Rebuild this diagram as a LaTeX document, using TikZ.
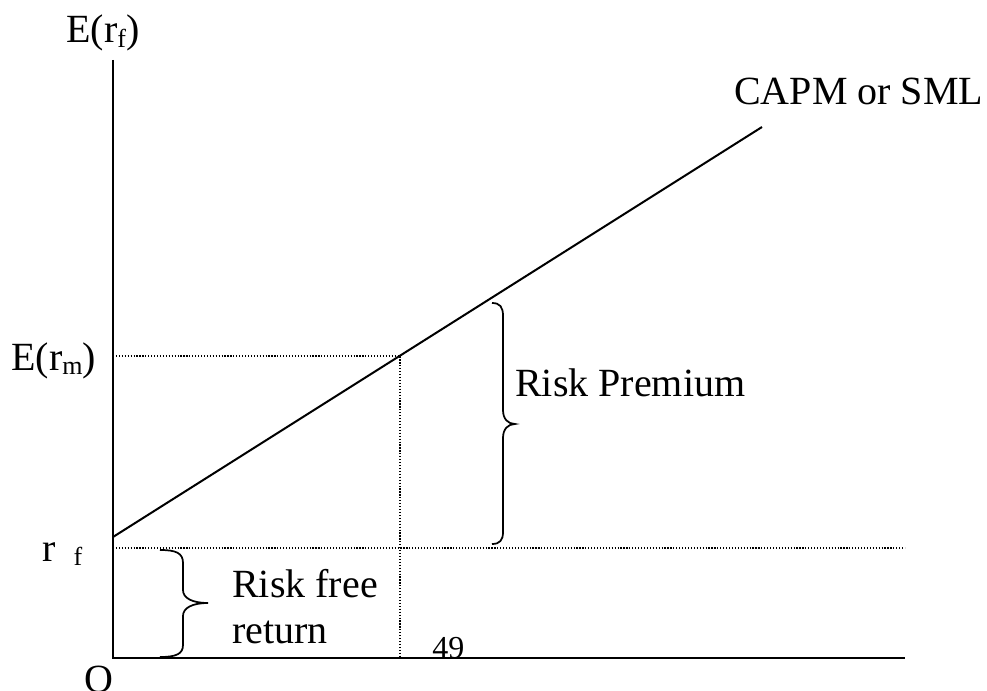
\documentclass[tikz,border=0pt]{standalone}
\usepackage{fontspec}
\setmainfont{Liberation Serif}
\newcommand{\sbs}[1]{\raisebox{-0.12em}{\fontsize{19.5}{19.5}\selectfont #1}}
\begin{document}
\begin{tikzpicture}[x=0.75pt,y=-0.75pt,
  axisline/.style={line width=1.5pt},
  guide/.style={line width=0.9pt,dash pattern=on 0.9pt off 1.3pt},
  bracepath/.style={line width=1.3pt},
  lbl/.style={inner sep=0pt,anchor=base west,font=\fontsize{30}{30}\selectfont}]
\useasboundingbox (0,0) rectangle (987,691);
% coordinates
\coordinate (ytop) at (113,60);
\coordinate (orig) at (113,658);
\coordinate (xend) at (905,658);
\coordinate (sml0) at (113,537);
\coordinate (sml1) at (762,127);
\coordinate (em0) at (113,356);
\coordinate (em1) at (400,356);
\coordinate (emx) at (400,658);
\coordinate (rf0) at (113,548);
\coordinate (rf1) at (905,548);
% guides
\draw[guide] (em0) -- (em1) -- (emx);
\draw[guide] (rf0) -- (rf1);
% axes
\draw[axisline] (ytop) -- (orig) -- (xend);
% SML
\draw[axisline] (sml0) -- (sml1);
% braces
\draw[bracepath] (492,303) .. controls (500,303) and (503,307) .. (503,316) -- (503,410)
  .. controls (503,419) and (508,424) .. (515,424)
  .. controls (508,424) and (503,429) .. (503,438) -- (503,532)
  .. controls (503,540) and (500,544) .. (492,544);
\draw[bracepath] (160,550) .. controls (176,550) and (183,553) .. (183,563) -- (183,590)
  .. controls (183,598) and (192,603) .. (208,603)
  .. controls (192,603) and (183,608) .. (183,616) -- (183,645)
  .. controls (183,654) and (176,657) .. (160,657);
% labels
\node[lbl] (lEy) at (66,43) {E(r\sbs{f})};
\node[lbl] (lEm) at (11,370) {E(r\sbs{m})};
\node[lbl] (lrf) at (42,561) {r\hspace{0.45em}\sbs{f}};
\node[lbl] (lO) at (84,692) {O};
\node[lbl] (lcapm) at (734,105) {CAPM or SML};
\node[lbl] (lrp) at (515,396) {Risk Premium};
\node[lbl] (lrfr1) at (232,597) {Risk free};
\node[lbl] (lrfr2) at (232,643) {return};
\node[lbl,font=\fontsize{24}{24}\selectfont] (l49) at (432,658) {49};
\end{tikzpicture}
\end{document}
